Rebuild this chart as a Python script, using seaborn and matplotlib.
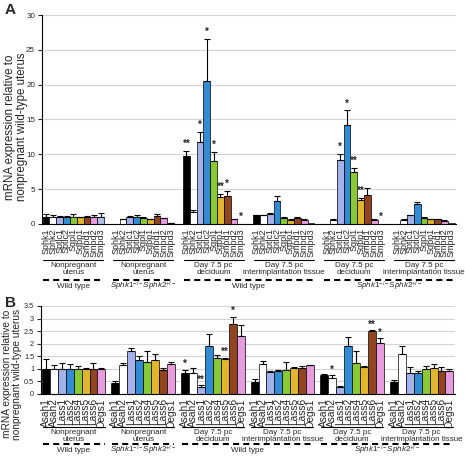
import numpy as np
import pandas as pd
import matplotlib
matplotlib.use("Agg")
import matplotlib.pyplot as plt
import matplotlib.transforms as mtransforms
import seaborn as sns

# Painel A: genes do metabolismo de esfingolipideos
genes_a = ["Sphk1", "Sphk2", "Sptlc1", "Sptlc2", "Sgpl1", "Sgpp1", "Smpd1", "Smpd2", "Smpd3"]
colors_a = ["#000000", "#ffffff", "#9aa9f4", "#168ff0", "#8ee21d", "#ffc40f", "#a33d0c", "#f68ee9", "#a7b6f2"]
vals_a = [
    [1.0, 1.0, 1.0, 1.0, 1.0, 1.0, 1.0, 1.0, 1.0],
    [0.0, 0.7, 1.0, 1.05, 0.85, 0.7, 1.1, 0.8, 0.15],
    [9.8, 1.7, 11.7, 20.5, 9.0, 3.9, 4.0, 0.7, 0.05],
    [1.25, 1.25, 1.5, 3.3, 0.9, 0.6, 0.9, 0.6, 0.15],
    [0.0, 0.6, 9.2, 14.2, 7.4, 3.5, 4.2, 0.6, 0.0],
    [0.0, 0.6, 1.25, 2.9, 0.9, 0.65, 0.7, 0.5, 0.15],
]
err_a = [
    [0.5, 0.3, 0.15, 0.2, 0.4, 0.05, 0.2, 0.25, 0.55],
    [0.0, 0.05, 0.1, 0.3, 0.2, 0.05, 0.4, 0.1, 0.05],
    [0.7, 0.35, 1.5, 6.0, 1.4, 0.35, 0.7, 0.05, 0.0],
    [0.05, 0.05, 0.1, 0.7, 0.05, 0.05, 0.1, 0.05, 0.0],
    [0.0, 0.05, 0.9, 2.1, 0.6, 0.2, 0.9, 0.05, 0.0],
    [0.0, 0.05, 0.05, 0.25, 0.05, 0.05, 0.05, 0.05, 0.0],
]
stars_a = {2: {0: "**", 2: "*", 3: "*", 4: "*", 5: "**", 6: "*", 8: "*"},
           4: {2: "*", 3: "*", 4: "**", 5: "**", 8: "*"}}

# Painel B: ceramidases e ceramida sintases
genes_b = ["Asah1", "Asah2", "Lass1", "Lass2", "Lass4", "Lass5", "Lass6", "Degs1"]
colors_b = ["#000000", "#ffffff", "#9aa9f4", "#168ff0", "#8ee21d", "#ffc40f", "#a33d0c", "#f68ee9"]
vals_b = [
    [1.0, 1.0, 1.0, 1.0, 1.0, 1.0, 1.0, 1.0],
    [0.45, 1.17, 1.7, 1.35, 1.29, 1.35, 0.96, 1.2],
    [0.85, 0.85, 0.28, 1.92, 1.45, 1.38, 2.8, 2.3],
    [0.48, 1.2, 0.88, 0.9, 0.97, 1.02, 1.04, 1.14],
    [0.75, 0.65, 0.28, 1.91, 1.25, 1.06, 2.5, 2.02],
    [0.48, 1.6, 0.85, 0.83, 0.98, 1.05, 0.9, 0.9],
]
err_b = [
    [0.4, 0.15, 0.25, 0.2, 0.1, 0.03, 0.25, 0.05],
    [0.08, 0.08, 0.12, 0.15, 0.43, 0.25, 0.07, 0.08],
    [0.12, 0.2, 0.08, 0.45, 0.1, 0.06, 0.28, 0.45],
    [0.1, 0.13, 0.04, 0.07, 0.3, 0.06, 0.06, 0.03],
    [0.05, 0.11, 0.02, 0.35, 0.45, 0.06, 0.04, 0.2],
    [0.08, 0.29, 0.24, 0.1, 0.14, 0.16, 0.16, 0.1],
]
stars_b = {2: {0: "*", 2: "**", 5: "**", 6: "*"},
           4: {1: "*", 6: "**", 7: "*"}}

group_labels = ["Nonpregnant\nuterus", "Nonpregnant\nuterus", "Day 7.5 pc\ndeciduum",
                "Day 7.5 pc\ninterimplantation tissue", "Day 7.5 pc\ndeciduum",
                "Day 7.5 pc\ninterimplantation tissue"]
genotypes = [("Wild type", [0]),
             (r"$\mathit{Sphk1}^{-/-}\mathit{Sphk2}^{+/-}$", [1]),
             ("Wild type", [2, 3]),
             (r"$\mathit{Sphk1}^{-/-}\mathit{Sphk2}^{+/-}$", [4, 5])]

W, H = 465, 457
sns.set_style("white")
plt.rcParams["font.family"] = ["Liberation Sans", "DejaVu Sans"]
plt.rcParams["mathtext.fontset"] = "custom"
plt.rcParams["mathtext.it"] = "Liberation Sans:italic"
plt.rcParams["mathtext.rm"] = "Liberation Sans"


def fy(px):
    return 1 - px / H


def draw_panel(fig, rect, genes, colors, vals, errs, stars, gap, ymax, ystep,
               tick_fs, ytick_fs, star_off, y_line, y_dash):
    ax = fig.add_axes(rect)
    n = len(genes)
    rows = []
    for g in range(len(vals)):
        for i, gene in enumerate(genes):
            rows.append({"pos": g * (n + gap) + i, "gene": gene, "group": g,
                         "value": vals[g][i], "err": errs[g][i]})
    df = pd.DataFrame(rows)

    sns.barplot(data=df, x="pos", y="value", hue="gene", hue_order=genes,
                palette=dict(zip(genes, colors)), native_scale=True, width=1.0,
                dodge=False, edgecolor="black", linewidth=0.5, errorbar=None,
                legend=False, ax=ax)
    e = df[df["err"] > 0]
    ax.errorbar(e["pos"], e["value"], yerr=[np.zeros(len(e)), e["err"]], fmt="none",
                ecolor="black", elinewidth=0.8, capsize=2.2, capthick=0.8)

    for g, d in stars.items():
        for i, s in d.items():
            r = df[(df["group"] == g) & (df["gene"] == genes[i])].iloc[0]
            ax.text(r["pos"], r["value"] + r["err"] + star_off, s, ha="center",
                    va="bottom", fontsize=7, fontweight="bold")

    ax.set_xlim(-0.6, (len(vals) - 1) * (n + gap) + n - 0.3)
    ax.set_ylim(0, ymax)
    yt = np.arange(0, ymax + ystep / 2, ystep)
    ax.set_yticks(yt)
    ax.set_yticklabels([f"{v:g}" for v in yt], fontsize=ytick_fs)
    ax.set_xticks(df["pos"])
    ax.set_xticklabels(df["gene"], rotation=90, fontsize=tick_fs)
    ax.tick_params(axis="x", length=2, width=0.6, pad=1)
    ax.tick_params(axis="y", length=3, width=0.8, pad=2, left=True)
    ax.set_xlabel("")
    ax.set_ylabel("")
    ax.yaxis.grid(True, color="#d4d4d4", lw=0.8)
    ax.set_axisbelow(True)
    sns.despine(ax=ax)
    for sp in ["left", "bottom"]:
        ax.spines[sp].set_color("black")
        ax.spines[sp].set_linewidth(0.8)

    trans = mtransforms.blended_transform_factory(ax.transData, fig.transFigure)
    for g, lab in enumerate(group_labels):
        x0 = g * (n + gap) - 0.4
        x1 = g * (n + gap) + n - 0.6
        ax.plot([x0, x1], [fy(y_line)] * 2, color="black", lw=0.8,
                transform=trans, clip_on=False)
        ax.text((x0 + x1) / 2, fy(y_line + 2), lab, ha="center", va="top",
                fontsize=5.8, linespacing=0.95, transform=trans)
    for text, grp in genotypes:
        x0 = grp[0] * (n + gap) - 0.4
        x1 = grp[-1] * (n + gap) + n - 0.6
        ax.plot([x0, x1], [fy(y_dash)] * 2, color="black", lw=1.5,
                dashes=(2.9, 2.0), transform=trans, clip_on=False)
        ax.text((x0 + x1) / 2, fy(y_dash + 6.5), text, ha="center", va="center",
                fontsize=5.8, transform=trans)
    return ax


fig = plt.figure(figsize=(W / 100, H / 100), dpi=100)

draw_panel(fig, [42 / W, fy(224), 414 / W, 209 / H], genes_a, colors_a, vals_a, err_a,
           stars_a, gap=1.3, ymax=30, ystep=5, tick_fs=6.5, ytick_fs=5.8, star_off=0.3,
           y_line=260, y_dash=280)
draw_panel(fig, [41 / W, fy(394), 414 / W, 88 / H], genes_b, colors_b, vals_b, err_b,
           stars_b, gap=0.75, ymax=3.5, ystep=0.5, tick_fs=7.3, ytick_fs=5.3,
           star_off=0.02, y_line=427, y_dash=443.5)

ylab = "mRNA expression relative to\nnonpregnant wild-type uterus"
fig.text(16 / W, fy(127), ylab, rotation=90, ha="center", va="center", fontsize=8.3,
         linespacing=1.0)
fig.text(12 / W, fy(374), ylab, rotation=90, ha="center", va="center", fontsize=7.3,
         linespacing=1.0)
fig.text(5 / W, fy(3), "A", fontsize=11, fontweight="bold", ha="left", va="top")
fig.text(5 / W, fy(296), "B", fontsize=11, fontweight="bold", ha="left", va="top")

fig.savefig("out.png", dpi=100)
